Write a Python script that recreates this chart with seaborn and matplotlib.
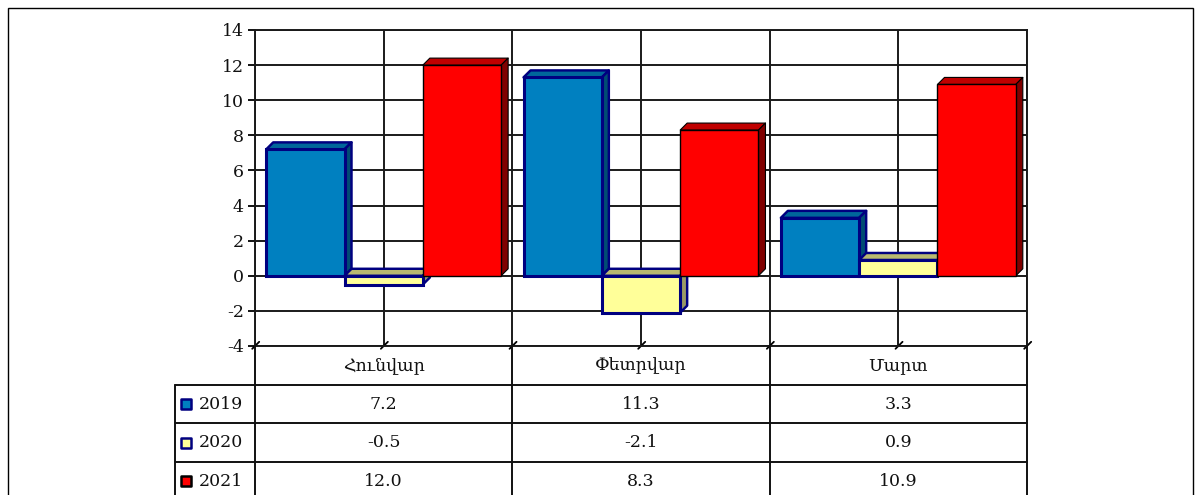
import numpy as np
import pandas as pd
import seaborn as sns
import matplotlib
matplotlib.use('Agg')
import matplotlib.pyplot as plt
from matplotlib.patches import Polygon, Rectangle

months = ['Հունվար', 'Փետրվար', 'Մարտ']
years = ['2019', '2020', '2021']
v2019 = [7.2, 11.3, 3.3]
v2020 = [-0.5, -2.1, 0.9]
v2021 = [12.0, 8.3, 10.9]
yticks = list(range(-4, 15, 2))

front = ['#0080C0', '#FFFF99', '#FF0000']
topc = ['#00669A', '#B8B870', '#C00000']
sidec = ['#004C73', '#999966', '#800000']
edges = ['#000080', '#000080', '#000000']
edge_w = [2.2, 2.2, 1.0]

sns.set_theme(style='white')
plt.rcParams['font.family'] = ['DejaVu Serif']
plt.rcParams['font.size'] = 12.5

df = pd.DataFrame({
    'month': months * 3,
    'year': np.repeat(years, 3),
    'value': v2019 + v2020 + v2021,
})

W, H = 1201, 495
fig = plt.figure(figsize=(W / 100, H / 100), dpi=100)
ax = fig.add_axes([255 / W, 1 - 346 / H, 772 / W, 316 / H])

sns.barplot(data=df, x='month', y='value', hue='year', order=months,
            hue_order=years, palette=front, saturation=1, width=0.913,
            errorbar=None, legend=False, ax=ax)

ax.set_xlim(-0.5, 2.5)
ax.set_ylim(-4, 14)
ax.set_yticks(yticks)
ax.set_yticklabels([str(t) for t in yticks], fontsize=12.5, color='#111111')
ax.set_xticks(np.arange(-0.5, 2.51, 0.5))
ax.set_xticklabels([])
ax.tick_params(axis='x', length=0)
ax.tick_params(axis='y', length=5, width=1.3, color='black', direction='out',
               pad=3, left=True)
ax.set_xlabel('')
ax.set_ylabel('')
ax.set_axisbelow(True)
ax.grid(True, color='#1a1a1a', lw=1.4)
for s in ax.spines.values():
    s.set_visible(True)
    s.set_color('#1a1a1a')
    s.set_linewidth(1.4)

# depth of the 3D look, in data units
ppx = 772 / 3
ppy = 316 / 18
dx, dy = 7 / ppx, 7 / ppy

for p in ax.patches:
    fc = matplotlib.colors.to_hex(p.get_facecolor()).upper()
    i = [c.upper() for c in front].index(fc)
    p.set_edgecolor(edges[i])
    p.set_linewidth(edge_w[i])
    p.set_zorder(3 + i * 0.1 + 0.05)
    x0, w = p.get_x(), p.get_width()
    y0, h = p.get_y(), p.get_height()
    top, bot = max(y0, y0 + h), min(y0, y0 + h)
    top_face = [(x0, top), (x0 + w, top), (x0 + w + dx, top + dy), (x0 + dx, top + dy)]
    side_face = [(x0 + w, bot), (x0 + w + dx, bot + dy), (x0 + w + dx, top + dy), (x0 + w, top)]
    for pts, col in ((top_face, topc[i]), (side_face, sidec[i])):
        ax.add_patch(Polygon(pts, closed=True, fc=col, ec=edges[i],
                             lw=edge_w[i] * 0.8, zorder=3 + i * 0.1, joinstyle='round'))

# small depth marks on the floor edge
for xv in np.arange(-0.5, 2.51, 0.5):
    ax.plot([xv - 0.4 * dx, xv + 0.6 * dx], [-4 - 0.4 * dy, -4 + 0.6 * dy],
            color='black', lw=1.3, clip_on=False, zorder=2)

# data table below the chart
axt = fig.add_axes([175 / W, 0, 852 / W, 149 / H])
xl = -0.5 - 80 / ppx
axt.set_xlim(xl, 2.5)
axt.set_ylim(3.85, 0)
axt.axis('off')

lc, lw = '#111111', 1.4
for r in (1, 2, 3):
    axt.plot([xl, 2.5], [r, r], color=lc, lw=lw, clip_on=False)
for xv in (-0.5, 0.5, 1.5, 2.5):
    axt.plot([xv, xv], [0, 4], color=lc, lw=lw, clip_on=False)
axt.plot([xl, xl], [1, 4], color=lc, lw=lw, clip_on=False)

for j, m in enumerate(months):
    axt.text(j, 0.5, m, ha='center', va='center', fontsize=12.5, color='#111111')

series = [v2019, v2020, v2021]
for r, (yr, vals) in enumerate(zip(years, series)):
    row = r + 1.5
    axt.scatter([xl + 11 / ppx], [row], marker='s', s=60, c=front[r],
                edgecolors=edges[r], linewidths=1.8, clip_on=False, zorder=3)
    axt.text(xl + 24 / ppx, row, yr, ha='left', va='center', fontsize=12.5, color='#111111')
    for j, v in enumerate(vals):
        axt.text(j, row, f'{v:.1f}', ha='center', va='center', fontsize=12.5, color='#111111')

# outer frame
fig.add_artist(Rectangle((8 / W, -0.05), (1193 - 8) / W, 1.05 - 8 / H,
                         transform=fig.transFigure, fill=False, ec='black', lw=1.0))

fig.savefig('out.png', dpi=100)
